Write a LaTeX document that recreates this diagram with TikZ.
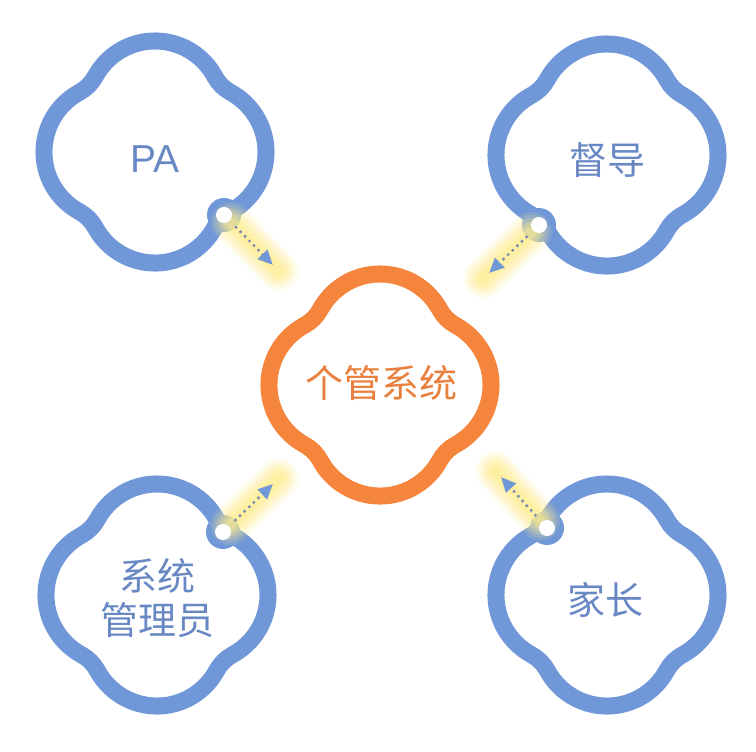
\documentclass[tikz,border=0pt]{standalone}
\usepackage{fontspec}
\newfontfamily\cjkfont{Noto Sans CJK SC}
\newfontfamily\latinfont{Liberation Sans}
\usetikzlibrary{arrows.meta,calc}
\definecolor{cblue}{RGB}{112,151,216}
\definecolor{corange}{RGB}{245,132,60}
\definecolor{tblue}{RGB}{104,136,196}
\definecolor{torange}{RGB}{234,128,62}
\definecolor{dotc}{RGB}{125,139,176}
\definecolor{glowc}{RGB}{255,238,140}
\newcommand{\cloverdraw}[2]{\draw[line width=17bp,#2,shift={#1}] (75.45bp,-59.76bp)
  arc[start angle=-61.5,end angle=61.5,radius=68bp]
  arc[start angle=241.5,end angle=208.5,radius=39.1bp]
  arc[start angle=28.5,end angle=151.5,radius=68bp]
  arc[start angle=331.5,end angle=298.5,radius=39.1bp]
  arc[start angle=118.5,end angle=241.5,radius=68bp]
  arc[start angle=61.5,end angle=28.5,radius=39.1bp]
  arc[start angle=208.5,end angle=331.5,radius=68bp]
  arc[start angle=151.5,end angle=118.5,radius=39.1bp] -- cycle;}
\newcommand{\glowline}[2]{\foreach \w/\o in {40/0.13,34/0.16,28/0.2,22/0.25,16/0.3,10/0.35}{\draw[line width=\w bp,glowc,opacity=\o,line cap=round] ($(#1)!10bp!(#2)$) -- ($(#2)!-8bp!(#1)$);}}
\begin{document}
\begin{tikzpicture}[x=1bp,y=-1bp,
  port/.style={circle,fill=cblue,minimum size=34bp,inner sep=0pt},
  hole/.style={fill=white},
  lbl/.style={font=\cjkfont\fontsize{38bp}{44bp}\selectfont,text=tblue,align=center,inner sep=0pt},
  dotline/.style={dotc,line width=3.4bp,line cap=round,dash pattern=on 0bp off 6.4bp,-{Triangle[length=15bp,width=13bp,color=cblue]}}]
\fill[white] (0,0) rectangle (756,752);
\useasboundingbox (0,0) rectangle (756,752);
% clover shapes
\cloverdraw{(155,152)}{cblue}
\cloverdraw{(607,155)}{cblue}
\cloverdraw{(157,595)}{cblue}
\cloverdraw{(607,595)}{cblue}
\cloverdraw{(380,385)}{corange}
% labels
\node[lbl,font=\latinfont\fontsize{39bp}{44bp}\selectfont] (pa) at (155,159) {PA};
\node[lbl] (dd) at (607,160) {督导};
\node[lbl] (gl) at (157,598) {系统\\管理员};
\node[lbl] (jz) at (605,600) {家长};
\node[lbl,text=torange] (gg) at (381,383) {个管系统};
% arrow tips
\coordinate (patip) at (273,265);
\coordinate (ddtip) at (489,273);
\coordinate (gltip) at (273,484);
\coordinate (jztip) at (501,477);
% ports
\node[port] (paport) at (224,215) {};
\node[port] (ddport) at (539,225) {};
\node[port] (glport) at (223,532) {};
\node[port] (jzport) at (547,528) {};
\glowline{paport}{patip}
\glowline{ddport}{ddtip}
\glowline{glport}{gltip}
\glowline{jzport}{jztip}
\foreach \p in {paport,ddport,glport,jzport}{\fill[hole] (\p.center) circle (8bp);}
\draw[dotline] (paport) -- (patip);
\draw[dotline] (ddport) -- (ddtip);
\draw[dotline] (glport) -- (gltip);
\draw[dotline] (jzport) -- (jztip);
\end{tikzpicture}
\end{document}
